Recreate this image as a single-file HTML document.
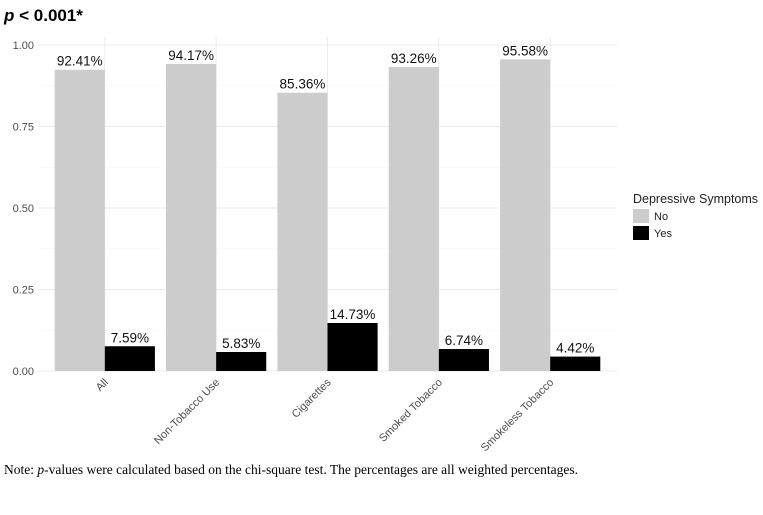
<!DOCTYPE html>
<html><head><meta charset="utf-8"><style>
body{margin:0;background:#fff;width:763px;height:510px;overflow:hidden;font-family:"Liberation Sans",sans-serif}
</style></head><body>
<svg width="763" height="510">
<text x="4" y="21" font-size="17" font-weight="bold"><tspan font-style="italic">p</tspan> &lt; 0.001*</text>
<g id="grid"></g><g id="bars"></g>
<g>
<text x="633" y="203" font-size="12.5" fill="#222">Depressive Symptoms</text>
<rect x="633" y="209" width="16" height="14" fill="#cccccc"/>
<text x="654" y="220" font-size="11" fill="#222">No</text>
<rect x="633" y="226" width="16" height="14" fill="#000"/>
<text x="654" y="237" font-size="11" fill="#222">Yes</text>
</g>
<text x="4" y="474" font-family="Liberation Serif, serif" font-size="13.5">Note: <tspan font-style="italic">p</tspan>-values were calculated based on the chi-square test. The percentages are all weighted percentages.</text>
</svg>
<script>
const categories=["All","Non-Tobacco Use","Cigarettes","Smoked Tobacco","Smokeless Tobacco"];
const noValues=[0.9241,0.9417,0.8536,0.9326,0.9558];
const yesValues=[0.0759,0.0583,0.1473,0.0674,0.0442];
const yTicks=[0,0.25,0.5,0.75,1];
const NS="http://www.w3.org/2000/svg";
const x0=38,x1=617,yTop=45,yBot=371;
const band=(x1-x0)/(categories.length-1+1.2);
const cx=i=>x0+band*(0.6+i);
const y=v=>yBot-(yBot-yTop)*v;
const bw=band*0.45;
function mk(t,a,p){const e=document.createElementNS(NS,t);for(const k in a)e.setAttribute(k,a[k]);p.appendChild(e);return e;}
const grid=document.getElementById('grid'),bars=document.getElementById('bars');
for(let i=0;i<yTicks.length-1;i++){const l=mk('line',{x1:x0,x2:x1,y1:y((yTicks[i]+yTicks[i+1])/2),y2:y((yTicks[i]+yTicks[i+1])/2),stroke:'#f4f4f4','stroke-width':0.6},grid);

}
yTicks.forEach(t=>{const l=mk('line',{x1:x0,x2:x1,y1:y(t),y2:y(t),stroke:'#ebebeb','stroke-width':1},grid);


const tx=mk('text',{x:x0-4,y:y(t)+4,'text-anchor':'end','font-size':11,fill:'#4d4d4d'},grid);tx.textContent=t.toFixed(2);

});
categories.forEach((c,i)=>{const l=mk('line',{x1:cx(i),x2:cx(i),y1:yTop-8,y2:yBot,stroke:'#ebebeb','stroke-width':1},grid);


const X=cx(i);
const t=mk('text',{x:0,y:0,'text-anchor':'end','font-size':11,fill:'#4d4d4d',transform:`translate(${X+4},${yBot+12}) rotate(-45)`},grid);t.textContent=c;


[[noValues[i],X-bw,'#cccccc','bar-no'],[yesValues[i],X,'#000','bar-yes']].forEach(([v,bx,f,n])=>{
const r=mk('rect',{x:bx,y:y(v),width:bw,height:yBot-y(v),fill:f},bars);


const lb=mk('text',{x:bx+bw/2,y:y(v)-4,'text-anchor':'middle','font-size':13.5,fill:'#111'},bars);lb.textContent=(v*100).toFixed(2)+'%';

});});
</script>
</body></html>
